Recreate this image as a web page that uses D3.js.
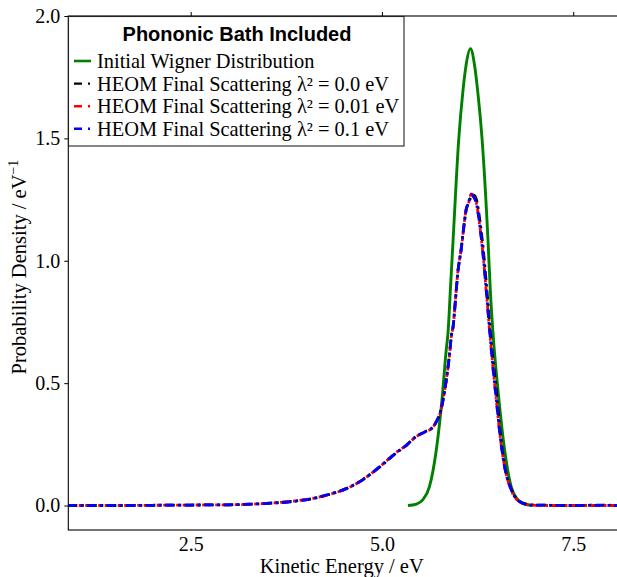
<!DOCTYPE html>
<html>
<head>
<meta charset="utf-8">
<script src="https://cdn.jsdelivr.net/npm/d3@7"></script>
<style>
    body { margin: 0; background: #fff; }
    svg { display: block; }
    .tick-label { font-family: "Liberation Serif", serif; font-size: 20px; fill: #000; }
    .axis-title { font-family: "Liberation Serif", serif; font-size: 20.5px; fill: #000; }
    .legend-text { font-family: "Liberation Serif", serif; font-size: 20.4px; fill: #000; }
    .legend-title { font-family: "Liberation Sans", Arial, sans-serif; font-size: 20px; font-weight: bold; fill: #000; }
</style>
</head>
<body>
<svg id="chart" width="617" height="577"></svg>
<script>
/*
    phononic bath scattering spectrum
*/

// values
const xTicks = [2.5, 5.0, 7.5];
const yTicks = [0.0, 0.5, 1.0, 1.5, 2.0];

const wignerEnergy = [5.34, 5.45, 5.53, 5.62, 5.71, 5.784, 5.84, 5.863, 5.896, 5.93, 6.003, 6.06, 6.10,
    6.157, 6.21, 6.25, 6.31, 6.386, 6.418, 6.452, 6.53, 6.604, 6.69, 6.76, 6.82, 6.97];
const wignerDensity = [0.000, 0.006, 0.022, 0.076, 0.226, 0.430, 0.635, 0.703, 0.890, 1.085, 1.493, 1.698, 1.800,
    1.866, 1.800, 1.698, 1.493, 1.085, 0.870, 0.703, 0.430, 0.226, 0.076, 0.030, 0.012, 0.000];

const heomEnergy = [0.9, 1.5, 2.0, 2.5, 3.0, 3.45, 3.88, 4.1, 4.32, 4.54, 4.75, 4.97, 5.2, 5.32, 5.45,
    5.56, 5.67, 5.72, 5.76, 5.82, 5.88, 5.91, 5.93, 5.96, 5.99, 6.04, 6.07, 6.1, 6.135, 6.167,
    6.2, 6.235, 6.28, 6.32, 6.365, 6.41, 6.45, 6.5, 6.54, 6.6, 6.69, 6.8, 6.93, 7.2, 7.5, 7.8, 8.1];
const heomLambda00 = [0.000, 0.000, 0.001, 0.002, 0.003, 0.008, 0.019, 0.029, 0.046, 0.070, 0.106, 0.157, 0.218, 0.246, 0.283,
    0.301, 0.322, 0.348, 0.378, 0.470, 0.610, 0.700, 0.730, 0.835, 0.945, 1.060, 1.140, 1.205, 1.238, 1.262,
    1.268, 1.250, 1.165, 1.060, 0.905, 0.735, 0.600, 0.455, 0.315, 0.170, 0.068, 0.017, 0.003, 0.001, 0.000, 0.002, 0.000];
const heomLambda001 = [0.000, 0.000, 0.001, 0.002, 0.003, 0.008, 0.019, 0.029, 0.046, 0.069, 0.106, 0.158, 0.220, 0.246, 0.282,
    0.300, 0.321, 0.349, 0.376, 0.471, 0.607, 0.700, 0.730, 0.839, 0.949, 1.057, 1.139, 1.210, 1.240, 1.273,
    1.262, 1.235, 1.139, 1.030, 0.870, 0.703, 0.567, 0.415, 0.294, 0.165, 0.063, 0.015, 0.002, 0.000, 0.000, 0.000, 0.000];
const heomLambda01 = [0.000, 0.000, 0.001, 0.002, 0.003, 0.008, 0.018, 0.029, 0.047, 0.070, 0.105, 0.159, 0.219, 0.247, 0.283,
    0.300, 0.322, 0.348, 0.377, 0.470, 0.605, 0.698, 0.732, 0.837, 0.947, 1.055, 1.137, 1.208, 1.242, 1.270,
    1.260, 1.233, 1.141, 1.028, 0.872, 0.705, 0.565, 0.417, 0.296, 0.163, 0.064, 0.016, 0.002, 0.001, 0.000, 0.001, 0.000];

const seriesLabels = [
    "Initial Wigner Distribution",
    "HEOM Final Scattering \u03bb\u00b2 = 0.0 eV",
    "HEOM Final Scattering \u03bb\u00b2 = 0.01 eV",
    "HEOM Final Scattering \u03bb\u00b2 = 0.1 eV"
];

class SpectrumChart {
    constructor() {
        this.svg = d3.select("#chart");
        this.left = 68.3;
        this.right = 619.1;
        this.top = 16;
        this.bottom = 530;

        this.x = d3.scaleLinear().domain([0.9, 8.1]).range([this.left, this.right]);
        this.y = d3.scaleLinear().domain([-0.1, 2.0]).range([this.bottom, this.top]);

        const dash = "9 4 2.5 4";
        this.series = [
            { label: seriesLabels[0], xs: wignerEnergy, ys: wignerDensity, color: "#008000", dash: null, offset: 0 },
            { label: seriesLabels[1], xs: heomEnergy, ys: heomLambda00, color: "#000000", dash: dash, offset: 0 },
            { label: seriesLabels[2], xs: heomEnergy, ys: heomLambda001, color: "#ff0000", dash: dash, offset: 2.6 },
            { label: seriesLabels[3], xs: heomEnergy, ys: heomLambda01, color: "#0000ff", dash: dash, offset: 0.8 }
        ];

        this.drawLines();
        this.drawAxes();
        this.drawLegend();
    }

    drawLines() {
        const line = d3.line()
            .x(d => this.x(d[0]))
            .y(d => this.y(d[1]))
            .curve(d3.curveMonotoneX);

        this.svg.append("defs").append("clipPath").attr("id", "plot-clip")
            .append("rect")
            .attr("x", this.left).attr("y", this.top)
            .attr("width", this.right - this.left).attr("height", this.bottom - this.top);

        this.svg.append("g")
            .attr("clip-path", "url(#plot-clip)")
            .selectAll("path")
            .data(this.series)
            .join("path")
            .attr("d", s => line(d3.zip(s.xs, s.ys)))
            .attr("fill", "none")
            .attr("stroke", s => s.color)
            .attr("stroke-width", s => (s.dash ? 2.8 : 2.9))
            .attr("stroke-dasharray", s => s.dash)
            .attr("stroke-dashoffset", s => s.offset);
    }

    drawAxes() {
        const yAxis = d3.axisLeft(this.y).tickValues(yTicks).tickSize(4).tickPadding(4).tickFormat(d3.format(".1f"));
        const xAxis = d3.axisBottom(this.x).tickValues(xTicks).tickSize(0).tickPadding(7).tickFormat(d3.format(".1f"));
        const topAxis = d3.axisTop(this.x).tickValues(xTicks).tickSize(4).tickFormat("");

        const gy = this.svg.append("g").attr("transform", `translate(${this.left},0)`).call(yAxis);
        const gx = this.svg.append("g").attr("transform", `translate(0,${this.bottom})`).call(xAxis);
        const gt = this.svg.append("g").attr("transform", `translate(0,${this.top})`).call(topAxis);

        [gy, gx, gt].forEach(g => {
            g.select(".domain").remove();
            g.selectAll(".tick line").attr("stroke", "#000").attr("stroke-width", 1);
            g.selectAll(".tick text").attr("class", "tick-label").attr("font-family", null).attr("font-size", null);
        });

        // frame
        this.svg.append("rect")
            .attr("x", this.left).attr("y", this.top)
            .attr("width", this.right - this.left).attr("height", this.bottom - this.top)
            .attr("fill", "none").attr("stroke", "#000").attr("stroke-width", 1.1);

        this.svg.append("text")
            .attr("class", "axis-title")
            .attr("x", (this.left + this.right) / 2 - 2)
            .attr("y", 573)
            .attr("text-anchor", "middle")
            .text("Kinetic Energy / eV");

        const yt = this.svg.append("text")
            .attr("class", "axis-title")
            .attr("transform", `translate(26,${(this.top + this.bottom) / 2 - 6}) rotate(-90)`)
            .attr("text-anchor", "middle");
        yt.append("tspan").text("Probability Density / eV");
        yt.append("tspan").attr("dy", -8).attr("font-size", 14).text("\u22121");
    }

    drawLegend() {
        const g = this.svg.append("g").classed("legend", true);
        g.append("rect")
            .attr("x", 68.5).attr("y", 16.5)
            .attr("width", 335.5).attr("height", 129.5)
            .attr("fill", "#fff").attr("stroke", "#222").attr("stroke-width", 1.1);

        g.append("text")
            .attr("class", "legend-title")
            .attr("x", 237).attr("y", 40.5)
            .attr("text-anchor", "middle")
            .text("Phononic Bath Included");

        const rows = g.selectAll("g.row")
            .data(this.series)
            .join("g")
            .attr("class", "row")
            .attr("transform", (d, i) => `translate(0,${61 + i * 22.6})`);

        rows.append("line")
            .attr("x1", 74).attr("x2", 91)
            .attr("y1", 0).attr("y2", 0)
            .attr("stroke", d => d.color)
            .attr("stroke-width", d => (d.dash ? 2.4 : 2.6))
            .attr("stroke-dasharray", d => (d.dash ? "8 6 2 3" : null));

        rows.append("text")
            .attr("class", "legend-text")
            .attr("x", 97).attr("y", 7)
            .text(d => d.label);
    }
}

new SpectrumChart();
</script>
</body>
</html>
